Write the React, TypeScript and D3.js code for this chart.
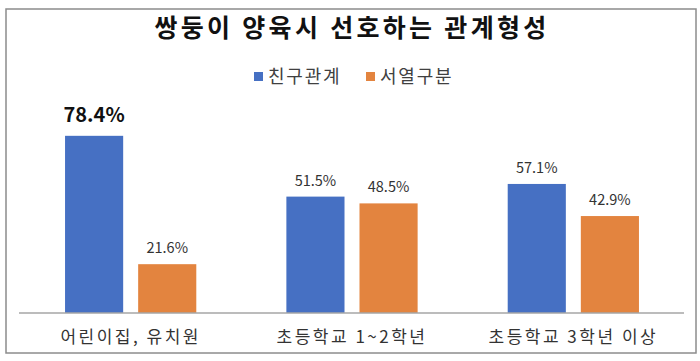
import React from "react";
import * as d3 from "d3";

const title = "쌍둥이 양육시 선호하는 관계형성";
const categories = ["어린이집, 유치원", "초등학교 1~2학년", "초등학교 3학년 이상"];
const seriesNames = ["친구관계", "서열구분"];
const friendValues = [78.4, 51.5, 57.1];
const rankValues = [21.6, 48.5, 42.9];
const colors = ["#4670C3", "#E3843F"];

const W = 700;
const H = 361;
const FONT = "'Noto Sans CJK KR', 'Noto Sans', sans-serif";

export default function App() {
  const x0 = d3.scaleBand<string>().domain(categories).range([20, 684]);
  const x1 = d3
    .scaleBand<string>()
    .domain(seriesNames)
    .range([0, x0.bandwidth()])
    .paddingInner(0.205)
    .paddingOuter(0.616);
  const y = d3.scaleLinear().domain([0, 100]).range([313, 87]);
  const seriesValues = [friendValues, rankValues];

  return (
    <svg
      width={W}
      height={H}
      style={{ position: "absolute", left: 0, top: 0, background: "#fff" }}
    >
      <rect x={6} y={9} width={690} height={344} fill="#fff" stroke="#8c8c8c" strokeWidth={1.5} />
      <text x={352} y={37} textAnchor="middle" fontFamily={FONT} fontWeight="bold" fontSize={25} letterSpacing={3.3} fill="#111">
        {title}
      </text>
      {seriesNames.map((s, i) => {
        const lx = i === 0 ? 254 : 366;
        return (
          <g key={s}>
            <rect x={lx} y={72} width={9} height={9} fill={colors[i]} />
            <text x={lx + 14} y={83} fontFamily={FONT} fontSize={18} letterSpacing={1.8} fill="#404040">
              {s}
            </text>
          </g>
        );
      })}
      {categories.map((c, ci) => (
        <g key={c} transform={`translate(${x0(c)},0)`}>
          {seriesNames.map((s, si) => {
            const v = seriesValues[si][ci];
            const bx = x1(s)!;
            const bold = ci === 0 && si === 0;
            return (
              <g key={s}>
                <rect x={bx} y={y(v)} width={x1.bandwidth()} height={y(0) - y(v)} fill={colors[si]} />
                <text
                  x={bx + x1.bandwidth() / 2}
                  y={y(v) - (bold ? 14 : 11)}
                  textAnchor="middle"
                  fontFamily={FONT}
                  fontSize={bold ? 20 : 14.5}
                  fontWeight={bold ? "bold" : "normal"}
                  fill={bold ? "#111" : "#333"}
                >
                  {v.toFixed(1)}%
                </text>
              </g>
            );
          })}
          <text
            x={x0.bandwidth() / 2}
            y={343}
            textAnchor="middle"
            fontFamily={FONT}
            fontSize={17}
            letterSpacing={2.5}
            fill="#333"
          >
            {c}
          </text>
        </g>
      ))}
      <line x1={19} x2={684} y1={y(0)} y2={y(0)} stroke="#a6a6a6" strokeWidth={1.5} />
    </svg>
  );
}
